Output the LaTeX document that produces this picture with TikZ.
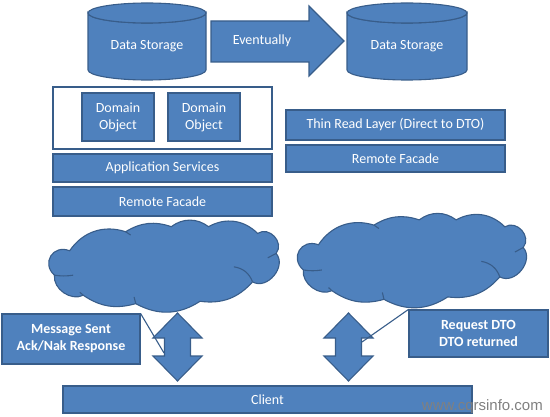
\documentclass[tikz,border=0pt]{standalone}
\usepackage{fontspec}
\setmainfont{Carlito}
\newfontfamily\wwwfont{Liberation Sans}
\definecolor{ofill}{HTML}{4F81BD}
\definecolor{oline}{HTML}{385D8A}
\tikzset{
  blk/.style={fill=ofill, draw=oline, line width=1.1pt},
  box/.style={blk, rectangle, inner sep=0pt, text=white, align=center,
    font=\fontsize{14}{17}\selectfont},
  lbl/.style={text=white, align=center, font=\fontsize{14}{17}\selectfont, inner sep=0pt},
  callout/.style={box, font=\fontsize{14}{17}\selectfont\bfseries},
  ptr/.style={draw=oline, line width=1.1pt},
  inl/.style={draw=oline, line width=1.1pt},
  ocloud/.pic={
    \filldraw[blk] (-0.808,0.331) to[bend right=80,looseness=1.6] (-0.937,-0.2)
      to[bend right=62] (-0.693,-0.636) to[bend right=25] (-0.248,-0.818)
      to[bend right=31] (0.297,-0.767) to[bend right=28] (0.742,-0.345)
      to[bend right=80,looseness=1.17] (0.942,0.273) to[bend right=80,looseness=1.3] (0.785,0.709)
      to[bend right=37] (0.369,0.855) to[bend right=37] (0.053,0.855)
      to[bend right=25] (-0.334,0.745) to[bend right=37] (-0.808,0.331) -- cycle;
    \draw[inl] (-0.937,-0.2) to[bend right=8] (-0.779,-0.2);
    \draw[inl] (-0.334,0.745) -- (-0.291,0.673);
    \draw[inl] (0.942,0.273) -- (0.871,0.178);
    \draw[inl] (0.742,-0.345) to[bend right=30] (0.584,-0.018);
    \draw[inl] (-0.248,-0.818) -- (-0.262,-0.673);
    \draw[inl] (-0.693,-0.636) -- (-0.722,-0.57);
  }
}
\begin{document}
\begin{tikzpicture}[x=1pt,y=1pt]
\useasboundingbox (0,0) rectangle (550,416);
% left cylinder
\filldraw[blk] (88,403) -- (88,346) arc[start angle=180,end angle=360,x radius=59pt,y radius=10pt]
  -- (206,403) arc[start angle=0,end angle=-180,x radius=59pt,y radius=10pt] -- cycle;
\filldraw[blk] (147,403) ellipse[x radius=59pt,y radius=10pt];
\node[lbl] (ds1) at (147,370) {Data Storage};
% right cylinder
\filldraw[blk] (347,403) -- (347,346) arc[start angle=180,end angle=360,x radius=60pt,y radius=10pt]
  -- (467,403) arc[start angle=0,end angle=-180,x radius=60pt,y radius=10pt] -- cycle;
\filldraw[blk] (407,403) ellipse[x radius=60pt,y radius=10pt];
\node[lbl] (ds2) at (407,370) {Data Storage};
% eventually arrow
\filldraw[blk] (211,395) -- (309,395) -- (309,410) -- (344,375) -- (309,340) -- (309,354) -- (211,354) -- cycle;
\node[lbl] (ev) at (262,375) {Eventually};
% left stack
\node[draw=oline, line width=1.1pt, fill=white, minimum width=219pt, minimum height=62pt, inner sep=0pt] (dom) at (162.5,298) {};
\node[box, minimum width=72pt, minimum height=48pt] (do1) at (118,299) {Domain\\Object};
\node[box, minimum width=72pt, minimum height=48pt] (do2) at (204,299) {Domain\\Object};
\node[box, minimum width=219pt, minimum height=28pt] (as) at (162.5,248) {Application Services};
\node[box, minimum width=219pt, minimum height=29pt] (rf1) at (162.5,214.5) {Remote Facade};
% right stack
\node[box, minimum width=219pt, minimum height=30pt] (trl) at (395.5,291) {Thin Read Layer (Direct to DTO)};
\node[box, minimum width=219pt, minimum height=27pt] (rf2) at (395.5,257.5) {Remote Facade};
% clouds
\begin{scope}[shift={(165,150)}, x=118pt, y=46pt]
  \pic (c1) at (0,0) {ocloud};
\end{scope}
\begin{scope}[shift={(413,155.5)}, x=117pt, y=47.5pt]
  \pic (c2) at (0,0) {ocloud};
\end{scope}
% double arrows
\filldraw[blk] (177.5,103) -- (202,78) -- (190.5,78) -- (190.5,60) -- (202,60) -- (177.5,35)
  -- (153,60) -- (164.5,60) -- (164.5,78) -- (153,78) -- cycle;
\filldraw[blk] (348.5,103) -- (373,78) -- (361.5,78) -- (361.5,60) -- (373,60) -- (348.5,35)
  -- (324,60) -- (335.5,60) -- (335.5,78) -- (324,78) -- cycle;
% callouts
\node[callout, minimum width=138pt, minimum height=50pt] (lc) at (71,77) {Message Sent\\Ack/Nak Response};
\node[callout, minimum width=139pt, minimum height=47pt] (rc) at (478.5,82.5) {Request DTO\\DTO returned};
\coordinate (lp) at (164,63);
\coordinate (rp) at (362,74);
\draw[ptr] (lc.north east) -- (lp);
\draw[ptr] (rc.north west) -- (rp);
% client
\node[box, minimum width=409pt, minimum height=27pt] (cl) at (267.5,16.5) {Client};
\node[anchor=base east, inner sep=0pt, text=gray, font=\wwwfont\fontsize{15}{15}\selectfont] (www) at (543,6) {www.cqrsinfo.com};
\end{tikzpicture}
\end{document}
